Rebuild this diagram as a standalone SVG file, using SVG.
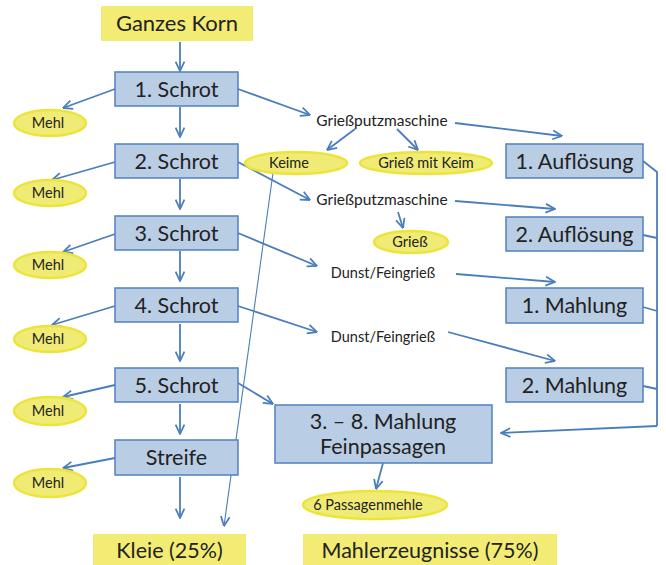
<svg xmlns="http://www.w3.org/2000/svg" width="666" height="565" viewBox="0 0 666 565">
<defs>
<marker id="ah" viewBox="0 0 10 10" refX="9.5" refY="5" markerWidth="11" markerHeight="11" markerUnits="userSpaceOnUse" orient="auto">
<path d="M1,1 L9.5,5 L1,9" fill="none" stroke="#4a7ebb" stroke-width="1.6"/>
</marker>
<style>
.box{fill:#b9cde5;stroke:#4f81bd;stroke-width:1.5}
.yel{fill:#f2ec74}
.ell{fill:#f0eb74;stroke:#ece43a;stroke-width:2.5}
.t{font-family:Lato,"Open Sans","DejaVu Sans",sans-serif;fill:#222;text-anchor:middle}
.big{font-size:21.5px}
.mid{font-size:15.5px}
.sm{font-size:14.5px}
.c{fill:none;stroke:#4a7ebb;stroke-width:1.8;marker-end:url(#ah)}
.l{fill:none;stroke:#4a7ebb;stroke-width:1.8}
</style>
</defs>
<rect width="666" height="565" fill="#fff"/>
<g id="connectors">
<path class="c" d="M180,42 L180,71"/>
<path class="c" d="M180,107 L180,137"/>
<path class="c" d="M180,179 L180,209"/>
<path class="c" d="M180,251 L180,281"/>
<path class="c" d="M180,324 L180,361"/>
<path class="c" d="M180,404 L180,434"/>
<path class="c" d="M180,477 L180,518"/>
<path class="c" d="M115,89 L63,108"/>
<path class="c" d="M115,162 L52,180"/>
<path class="c" d="M115,234 L63,252"/>
<path class="c" d="M115,306 L52,325"/>
<path class="c" d="M115,385 L63,397"/>
<path class="c" d="M115,458 L63,468"/>
<path class="c" d="M238,89 L310,115"/>
<path class="c" d="M238,162 L310,200"/>
<path class="c" d="M238,233 L317,266"/>
<path class="c" d="M238,306 L317,332"/>
<path class="c" d="M238,383 L273,404"/>
<path class="c" d="M455,123 L562,136"/>
<path class="c" d="M355,129 L327,150"/>
<path class="c" d="M397,129 L418,150"/>
<path class="c" d="M455,201 L555,209"/>
<path class="c" d="M398,212 L403,228"/>
<path class="c" d="M456,274 L555,282"/>
<path class="c" d="M448,332 L555,361"/>
<path class="c" d="M383,463 L376,489"/>
<path fill="none" stroke="#4a7ebb" stroke-width="1.1" marker-end="url(#ah)" d="M273,173 L224,526"/>
<path class="l" d="M643,161 L657,172 L657,426"/>
<path class="l" d="M643,235 L657,238"/>
<path class="l" d="M643,307 L657,311"/>
<path class="l" d="M643,386 L657,389"/>
<path class="c" d="M657,426 L501,433"/>
</g>
<g id="ganzes-korn"><rect class="yel" x="101" y="6" width="152" height="35"/><text class="t" x="177" y="31" font-size="22">Ganzes Korn</text></g>
<g id="schrot1"><rect class="box" x="115" y="72" width="123" height="34"/><text class="t big" x="176.5" y="96.5">1. Schrot</text></g>
<g id="schrot2"><rect class="box" x="115" y="144" width="123" height="34"/><text class="t big" x="176.5" y="168.5">2. Schrot</text></g>
<g id="schrot3"><rect class="box" x="115" y="216" width="123" height="34"/><text class="t big" x="176.5" y="240.5">3. Schrot</text></g>
<g id="schrot4"><rect class="box" x="115" y="288" width="123" height="34"/><text class="t big" x="176.5" y="312.5">4. Schrot</text></g>
<g id="schrot5"><rect class="box" x="115" y="368" width="123" height="34"/><text class="t big" x="176.5" y="392.5">5. Schrot</text></g>
<g id="streife"><rect class="box" x="115" y="440" width="123" height="35"/><text class="t big" x="176.5" y="465">Streife</text></g>
<g id="mehl1"><ellipse class="ell" cx="50" cy="123" rx="36" ry="13"/><text class="t sm" x="48" y="128">Mehl</text></g>
<g id="mehl2"><ellipse class="ell" cx="50" cy="193" rx="36" ry="13"/><text class="t sm" x="48" y="198">Mehl</text></g>
<g id="mehl3"><ellipse class="ell" cx="50" cy="265" rx="36" ry="13"/><text class="t sm" x="48" y="270">Mehl</text></g>
<g id="mehl4"><ellipse class="ell" cx="50" cy="339" rx="36" ry="13"/><text class="t sm" x="48" y="344">Mehl</text></g>
<g id="mehl5"><ellipse class="ell" cx="50" cy="411" rx="36" ry="14"/><text class="t sm" x="48" y="416">Mehl</text></g>
<g id="mehl6"><ellipse class="ell" cx="50" cy="483" rx="36" ry="14"/><text class="t sm" x="48" y="488">Mehl</text></g>
<g id="gpm1"><text class="t mid" x="382" y="126">Grießputzmaschine</text></g>
<g id="gpm2"><text class="t mid" x="382" y="205">Grießputzmaschine</text></g>
<g id="keime"><ellipse class="ell" cx="296" cy="163" rx="51" ry="11"/><text class="t sm" x="289" y="168">Keime</text></g>
<g id="griess-mit-keim"><ellipse class="ell" cx="426" cy="163" rx="66" ry="11"/><text class="t sm" x="426" y="168">Grieß mit Keim</text></g>
<g id="griess"><ellipse class="ell" cx="411" cy="242" rx="37" ry="11"/><text class="t sm" x="410" y="247">Grieß</text></g>
<g id="dunst1"><text class="t sm" x="383" y="278">Dunst/Feingrieß</text></g>
<g id="dunst2"><text class="t sm" x="383" y="342">Dunst/Feingrieß</text></g>
<g id="aufl1"><rect class="box" x="506" y="144" width="137" height="34"/><text class="t big" x="574.5" y="168.5">1. Auflösung</text></g>
<g id="aufl2"><rect class="box" x="506" y="217" width="137" height="34"/><text class="t big" x="574.5" y="241.5">2. Auflösung</text></g>
<g id="mahl1"><rect class="box" x="506" y="288" width="137" height="35"/><text class="t big" x="574.5" y="313">1. Mahlung</text></g>
<g id="mahl2"><rect class="box" x="506" y="368" width="137" height="34"/><text class="t big" x="574.5" y="392.5">2. Mahlung</text></g>
<g id="mahl38"><rect class="box" x="275" y="405" width="217" height="58"/><text class="t big" x="383" y="429">3. – 8. Mahlung</text><text class="t big" x="383" y="454">Feinpassagen</text></g>
<g id="passagenmehle"><ellipse class="ell" cx="375" cy="505" rx="72" ry="14"/><text class="t sm" x="368" y="510">6 Passagenmehle</text></g>
<g id="kleie"><rect class="yel" x="93" y="534" width="153" height="31"/><text class="t big" x="169.5" y="557.5">Kleie (25%)</text></g>
<g id="mahlerzeugnisse"><rect class="yel" x="303" y="534" width="254" height="31"/><text class="t big" x="430" y="557.5">Mahlerzeugnisse (75%)</text></g>
</svg>
